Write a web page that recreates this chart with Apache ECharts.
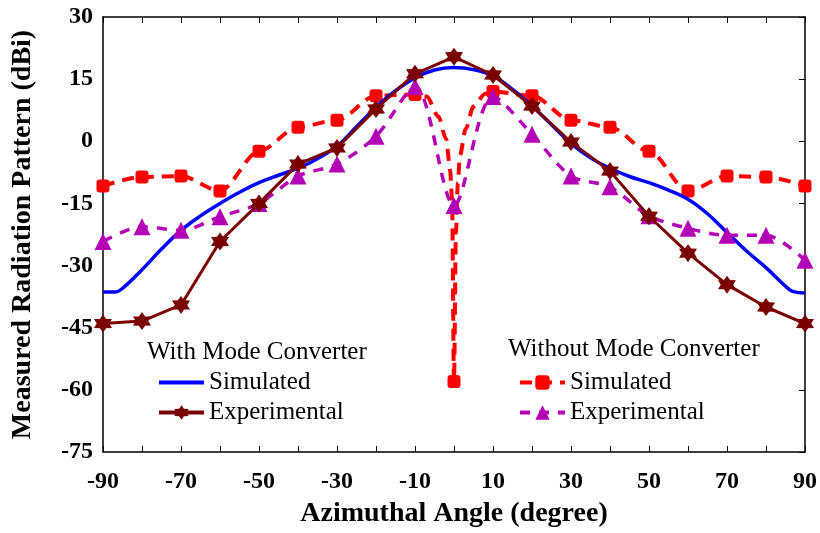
<!DOCTYPE html>
<html><head><meta charset="utf-8">
<script src="https://cdn.jsdelivr.net/npm/echarts@6/dist/echarts.min.js"></script>
<style>html,body{margin:0;padding:0;background:#fff}#c{width:820px;height:533px}</style>
</head><body><div id="c"></div>
<script>
// ---- data ----
const angles = [-90,-80,-70,-60,-50,-40,-30,-20,-10,0,10,20,30,40,50,60,70,80,90];
const expWith = [-44,-43.4,-39.5,-24.2,-15,-5.5,-1.6,7.8,16.3,20.4,16,8.5,-0.2,-7.2,-18.1,-27,-34.6,-40,-44];
const simWithAngles = [-90,-87,-85,-80,-75,-70,-65,-60,-55,-50,-45,-40,-35,-30,-25,-20,-15,-10,-5,0,5,10,15,20,25,30,35,40,45,50,55,60,65,70,75,80,85,87,90];
const simWith = [-36.4,-36.4,-35.5,-31,-26,-21.5,-18,-15,-12.3,-10,-8.2,-6.5,-4.2,-1.2,3.5,8.2,12.2,15.3,17.2,17.8,17.3,15.8,12.5,8.5,4,-0.5,-4,-6.5,-8.5,-10,-11.8,-14,-17.5,-22,-26.5,-30.5,-35,-36.3,-36.6];
const simWithoutAngles = [-90,-80,-70,-60,-50,-40,-30,-20,-10,-7,-4,-2,-1,-0.5,0,0.5,1,1.5,3,5,8,10,20,30,40,50,60,70,80,90];
const simWithout = [-10.8,-8.6,-8.4,-12,-2.4,3.4,5.1,11,11.3,10.8,6,0.5,-7,-14,-58,-22,-10,-3.5,3,8.4,11.5,12,11,5.1,3.4,-2.4,-12,-8.4,-8.6,-10.8];
const expWithout = [-24.2,-20.6,-21.5,-18.2,-15,-8.4,-5.5,1.2,13.2,-15.5,10.8,1.7,-8.4,-11,-18,-21,-22.7,-22.7,-28.7];
const xTickLabels = ['-90','-70','-50','-30','-10','10','30','50','70','90'];

const star = 'path://M50 0 L65 24 L93.3 25 L80 50 L93.3 75 L65 76 L50 100 L35 76 L6.7 75 L20 50 L6.7 25 L35 24 Z';
const serif = '"Liberation Serif","Times New Roman",serif';
const markerSet = new Set(angles);

const chart = echarts.init(document.getElementById('c'));
const axisLine = {show:true, onZero:false, lineStyle:{color:'#000', width:1.5}};
const legendText = {color:'#000', fontFamily:serif, fontSize:25};
chart.setOption({
  animation:false,
  backgroundColor:'#fff',
  grid:{left:103, right:13, top:17, bottom:78, containLabel:false},
  xAxis:[
    {type:'value', min:-90, max:90, interval:10, position:'bottom',
     axisLine:axisLine, axisTick:{show:true, inside:true, length:6, lineStyle:{color:'#000'}},
     splitLine:{show:false},
     axisLabel:{margin:18, color:'#000', fontFamily:serif, fontWeight:'bold', fontSize:24,
       formatter:v => xTickLabels.indexOf(String(v)) >= 0 ? String(v) : ''},
     name:'Azimuthal Angle (degree)', nameLocation:'middle', nameGap:48,
     nameTextStyle:{color:'#000', fontFamily:serif, fontWeight:'bold', fontSize:28}},
    {type:'value', min:-90, max:90, interval:10, position:'top',
     axisLine:axisLine, axisTick:{show:true, inside:true, length:6, lineStyle:{color:'#000'}},
     splitLine:{show:false}, axisLabel:{show:false}}
  ],
  yAxis:[
    {type:'value', min:-75, max:30, interval:15, position:'left',
     axisLine:axisLine, axisTick:{show:false}, splitLine:{show:false},
     axisLabel:{margin:10, color:'#000', fontFamily:serif, fontWeight:'bold', fontSize:24},
     name:'Measured Radiation Pattern (dBi)', nameLocation:'middle', nameGap:66,
     nameTextStyle:{color:'#000', fontFamily:serif, fontWeight:'bold', fontSize:28}},
    {type:'value', min:-75, max:30, interval:15, position:'right',
     axisLine:axisLine, axisTick:{show:true, inside:true, length:6, lineStyle:{color:'#000'}},
     splitLine:{show:false}, axisLabel:{show:false}}
  ],
  legend:[
    {orient:'vertical', left:152, top:365, itemWidth:45, itemHeight:18, itemGap:5,
     data:[{name:'SimWith', itemStyle:{opacity:0}, lineStyle:{width:4}},
           {name:'ExpWith', lineStyle:{width:4}}],
     formatter:n => n.startsWith('Sim') ? 'Simulated' : 'Experimental',
     textStyle:legendText},
    {orient:'vertical', left:513, top:365, itemWidth:45, itemHeight:18, itemGap:5,
     data:[{name:'SimWithout', lineStyle:{width:4}},
           {name:'ExpWithout', lineStyle:{width:4}}],
     formatter:n => n.startsWith('Sim') ? 'Simulated' : 'Experimental',
     textStyle:legendText}
  ],
  graphic:[
    {type:'text', left:147, top:340, style:{text:'With Mode Converter', font:'25px '+serif, fill:'#000'}},
    {type:'text', left:508, top:337, style:{text:'Without Mode Converter', font:'25px '+serif, fill:'#000'}}
  ],
  series:[
    {name:'SimWith', type:'line', smooth:0.4, symbol:'none',
     lineStyle:{color:'#0000ff', width:3.5}, itemStyle:{color:'#0000ff'},
     data:simWithAngles.map((a,i)=>[a,simWith[i]]), z:3},
    {name:'SimWithout', type:'line', smooth:0.3, smoothMonotone:'x',
     symbol:'roundRect', symbolSize:13,
     lineStyle:{color:'#ff0000', width:4, type:[12,8]}, itemStyle:{color:'#ff0000'},
     data:simWithoutAngles.map((a,i)=>({value:[a,simWithout[i]], symbol: markerSet.has(a) ? 'roundRect' : 'none'})), z:2},
    {name:'ExpWithout', type:'line', smooth:0.3,
     symbol:'triangle', symbolSize:17,
     lineStyle:{color:'#b400b4', width:3.5, type:[10,9]}, itemStyle:{color:'#b400b4'},
     data:angles.map((a,i)=>[a,expWithout[i]]), z:4},
    {name:'ExpWith', type:'line', symbol:star, symbolSize:18,
     lineStyle:{color:'#7a0000', width:3}, itemStyle:{color:'#7a0000'},
     data:angles.map((a,i)=>[a,expWith[i]]), z:5}
  ]
});
</script></body></html>
